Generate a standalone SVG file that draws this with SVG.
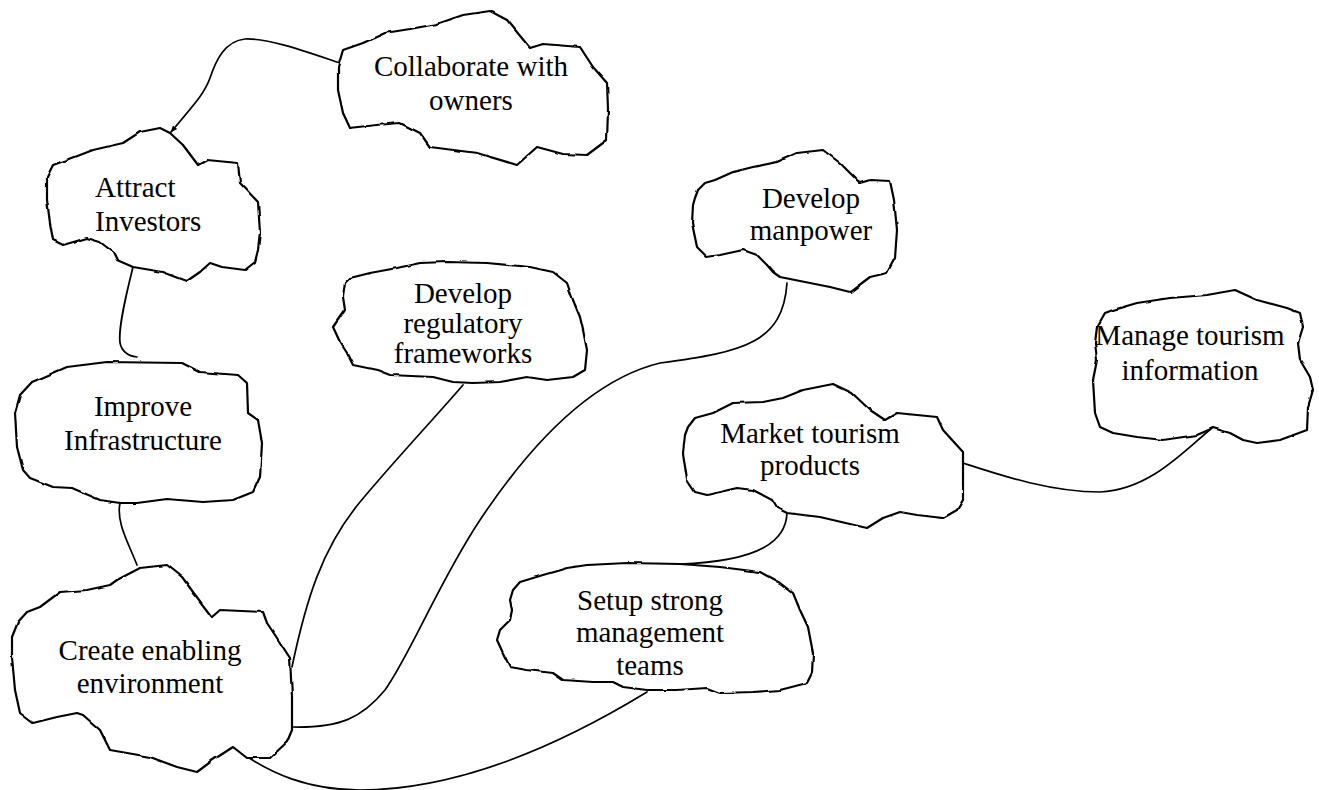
<svg xmlns="http://www.w3.org/2000/svg" width="1319" height="790" viewBox="0 0 1319 790">
<defs>
<style>
.cloud{fill:#fff;stroke:#000;stroke-width:2.2;stroke-linejoin:round;filter:url(#wob)}
.conn{fill:none;stroke:#000;stroke-width:1.7;stroke-linecap:round}
.lbl{font-family:"Liberation Serif","Times New Roman",serif;font-size:29px;fill:#000;text-anchor:middle}
</style>
<filter id="wob" x="-5%" y="-5%" width="110%" height="110%">
<feTurbulence type="fractalNoise" baseFrequency="0.06" numOctaves="2" seed="3" result="n"/>
<feDisplacementMap in="SourceGraphic" in2="n" scale="2.6" xChannelSelector="R" yChannelSelector="G"/>
</filter>
<marker id="arr" viewBox="0 0 10 10" refX="9" refY="5" markerWidth="7" markerHeight="7" orient="auto" markerUnits="userSpaceOnUse">
<path d="M0,1 L10,5 L0,9 Z" fill="#000"/>
</marker>
</defs>
<rect width="1319" height="790" fill="#fff"/>
<g id="connectors">
<path class="conn" d="M340,63 C310,53 270,38 245,39 C225,41 216,60 210,78 C205,92 198,100 171,132" marker-end="url(#arr)"/>
<path class="conn" d="M133,267 C126,295 118,328 120,343 C122,352 128,356 137,357"/>
<path class="conn" d="M120,503 C116,522 128,542 137,565"/>
<path class="conn" d="M292,667 C306,600 322,548 360,502 C395,460 440,412 463,385"/>
<path class="conn" d="M293,727 C340,728 362,718 385,690 C410,655 440,580 480,520 C530,445 590,380 660,363 C745,352 783,342 787,283"/>
<path class="conn" d="M647,692 C560,745 460,790 360,790 C310,790 270,775 232,746"/>
<path class="conn" d="M787,513 C786,540 762,561 680,564"/>
<path class="conn" d="M963,463 C1000,475 1050,492 1100,492 C1150,490 1185,450 1212,428"/>
</g>
<g id="collaborate">
<path class="cloud" d="M343,50 L363,43 L385,33 L410,29 L437,24 L463,15 L490,11 L507,20 L530,48 L543,44 L580,47 L593,67 L607,83 L608,110 L607,140 L587,155 L563,154 L537,147 L517,165 L477,153 L430,147 L420,133 L400,123 L377,125 L350,128 L343,113 L338,90 L338,67 Z"/>
<text class="lbl" x="471" y="76">Collaborate with</text>
<text class="lbl" x="471" y="110">owners</text>
</g>
<g id="attract">
<path class="cloud" d="M47,177 L53,165 L67,160 L93,150 L123,143 L140,132 L160,128 L170,133 L183,145 L198,165 L207,160 L238,163 L240,183 L258,202 L260,233 L258,250 L255,262 L245,270 L222,267 L210,263 L200,272 L187,281 L163,272 L133,267 L117,260 L113,252 L100,242 L87,238 L63,245 L53,240 L50,223 L47,200 Z"/>
<text class="lbl" x="95" y="197" style="text-anchor:start">Attract</text>
<text class="lbl" x="95" y="231" style="text-anchor:start">Investors</text>
</g>
<g id="improve">
<path class="cloud" d="M15,413 L20,395 L32,382 L67,367 L107,362 L182,363 L200,372 L238,375 L247,383 L248,413 L258,420 L262,443 L260,477 L253,492 L233,500 L203,502 L167,499 L137,503 L120,503 L100,500 L72,488 L53,487 L30,478 L23,470 L17,447 Z"/>
<text class="lbl" x="143" y="416">Improve</text>
<text class="lbl" x="143" y="450">Infrastructure</text>
</g>
<g id="create">
<path class="cloud" d="M12,637 L18,622 L27,612 L40,607 L60,592 L87,590 L110,585 L117,580 L140,568 L167,565 L182,577 L193,592 L212,617 L220,610 L263,612 L267,623 L277,638 L290,658 L292,697 L292,730 L287,742 L270,758 L247,758 L233,747 L213,760 L197,772 L177,767 L150,757 L110,750 L100,730 L83,715 L77,713 L57,717 L33,723 L20,713 L15,690 L12,657 Z"/>
<text class="lbl" x="150" y="660">Create enabling</text>
<text class="lbl" x="150" y="693">environment</text>
</g>
<g id="regulatory">
<path class="cloud" d="M345,283 L350,278 L370,273 L397,268 L420,263 L447,262 L487,263 L530,267 L553,272 L567,283 L573,300 L580,317 L583,330 L587,350 L585,370 L573,377 L547,380 L527,377 L500,382 L473,383 L453,382 L433,377 L390,375 L377,370 L353,365 L347,353 L340,342 L333,327 L340,317 L345,310 L343,297 Z"/>
<text class="lbl" x="463" y="303">Develop</text>
<text class="lbl" x="463" y="333">regulatory</text>
<text class="lbl" x="463" y="363">frameworks</text>
</g>
<g id="manpower">
<path class="cloud" d="M695,198 L698,190 L705,183 L715,180 L733,172 L753,167 L777,162 L797,153 L823,150 L840,163 L860,183 L870,180 L890,181 L894,200 L897,230 L895,258 L887,273 L870,277 L850,292 L830,287 L800,281 L780,277 L773,272 L767,265 L757,255 L743,250 L720,255 L707,257 L697,247 L692,223 L693,205 Z"/>
<text class="lbl" x="811" y="208">Develop</text>
<text class="lbl" x="811" y="240">manpower</text>
</g>
<g id="manage">
<path class="cloud" d="M1097,327 L1105,313 L1113,310 L1137,303 L1170,298 L1207,295 L1235,290 L1257,300 L1287,308 L1300,313 L1303,327 L1298,343 L1300,360 L1310,377 L1313,390 L1308,407 L1307,430 L1280,440 L1257,443 L1243,440 L1230,433 L1213,428 L1197,435 L1163,440 L1137,437 L1113,433 L1100,427 L1095,413 L1093,380 L1097,360 L1095,343 Z"/>
<text class="lbl" x="1190" y="345">Manage tourism</text>
<text class="lbl" x="1190" y="380">information</text>
</g>
<g id="market">
<path class="cloud" d="M685,435 L688,427 L695,418 L713,413 L733,403 L763,402 L783,398 L803,390 L833,384 L852,393 L870,410 L885,420 L897,413 L937,417 L943,430 L963,452 L963,473 L963,500 L957,510 L943,518 L917,515 L900,512 L883,518 L867,528 L820,517 L787,513 L777,508 L772,500 L753,490 L737,488 L707,495 L695,492 L687,480 L683,453 Z"/>
<text class="lbl" x="810" y="443">Market tourism</text>
<text class="lbl" x="810" y="475">products</text>
</g>
<g id="setup">
<path class="cloud" d="M513,590 L520,582 L543,575 L567,568 L587,565 L627,563 L680,564 L720,567 L760,572 L780,583 L793,593 L800,610 L808,627 L813,653 L812,673 L807,683 L780,690 L753,692 L720,693 L707,688 L677,690 L647,690 L623,687 L613,682 L593,682 L563,680 L553,673 L527,670 L510,667 L503,653 L497,640 L500,630 L510,620 L512,610 L510,600 Z"/>
<text class="lbl" x="650" y="610">Setup strong</text>
<text class="lbl" x="650" y="642">management</text>
<text class="lbl" x="650" y="675">teams</text>
</g>
</svg>
